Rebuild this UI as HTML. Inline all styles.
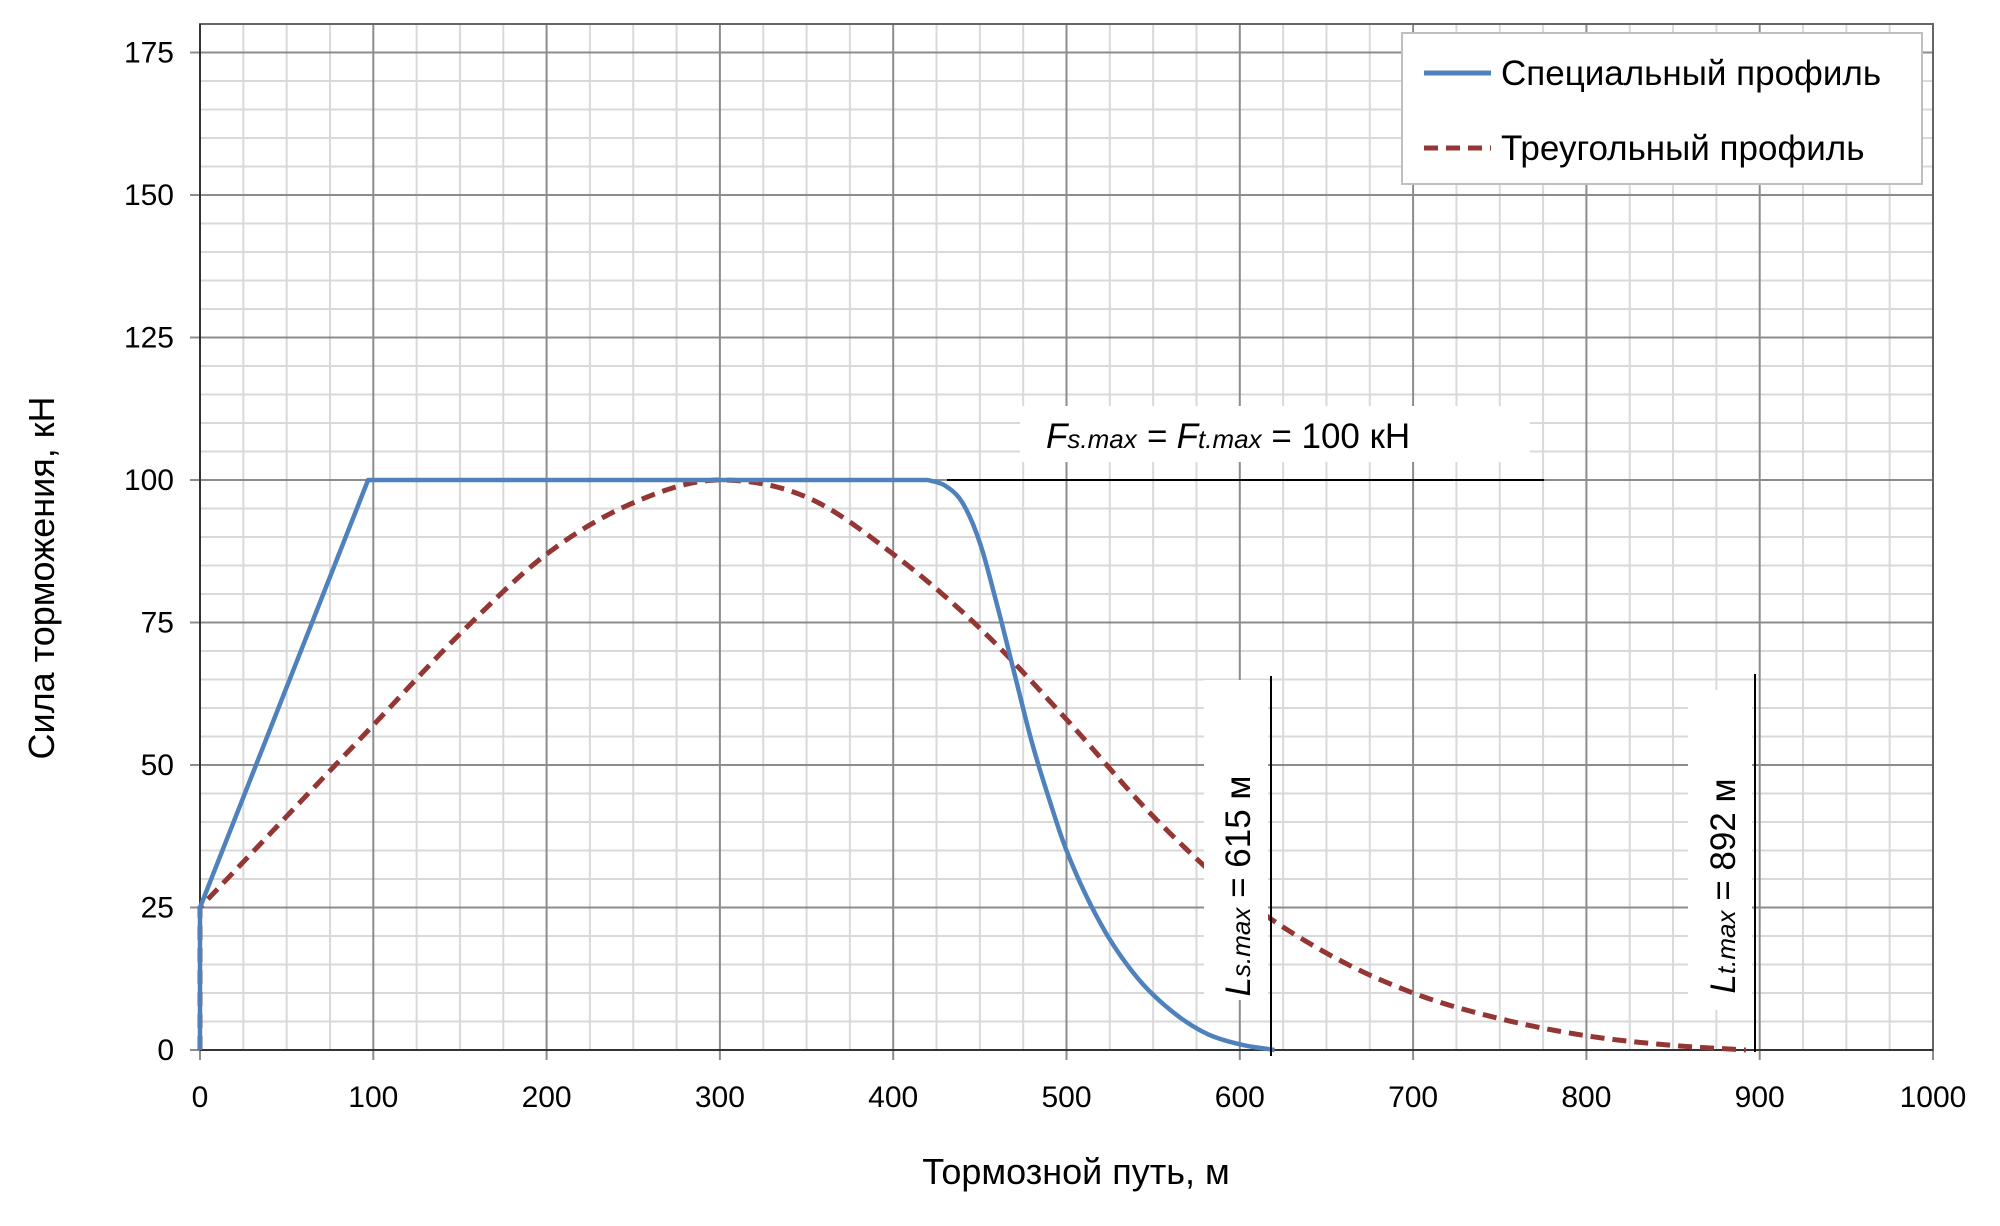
<!DOCTYPE html>
<html><head><meta charset="utf-8"><style>
body{margin:0;background:#fff}
svg text{font-family:"Liberation Sans",Arial,sans-serif;fill:#000}
</style></head><body>
<svg id="c" width="2000" height="1221" xmlns="http://www.w3.org/2000/svg"></svg>
<script>
const xTicks=[0,100,200,300,400,500,600,700,800,900,1000];
const yTicks=[0,25,50,75,100,125,150,175];
const specialX=[0,97,420,430,440,450,460,470,480,490,500,520,540,560,580,600,620];
const specialY=[25,100,100,99,96,89,78,66,54,44,35,22,13,7,3,1,0];
const triX=[0,50,100,150,200,250,300,350,400,450,500,550,600,650,700,750,800,850,892];
const triY=[25,41,57,73,87,96,100,97,87,74,58,41,27,17,10,5.5,2.5,0.8,0];
const L=200,R=1933,T=24,B=1050;
const sx=v=>L+v*(R-L)/1000, sy=v=>B-v*(B-T)/180;
const svg=document.getElementById('c');
const NS='http://www.w3.org/2000/svg';
function mk(t,a,p){const e=document.createElementNS(NS,t);for(const k in a)e.setAttribute(k,a[k]);(p||svg).appendChild(e);return e;}
for(let v=25;v<1000;v+=25){if(v%100===0)continue;const e=mk('line',{x1:sx(v),x2:sx(v),y1:T,y2:B,stroke:'#d9d9d9','stroke-width':2});

}
for(let v=5;v<180;v+=5){if(v%25===0)continue;const e=mk('line',{x1:L,x2:R,y1:sy(v),y2:sy(v),stroke:'#d9d9d9','stroke-width':2});

}
xTicks.forEach(v=>{const g=mk('line',{x1:sx(v),x2:sx(v),y1:T,y2:B+10,stroke:'#8c8c8c','stroke-width':2});


const t=mk('text',{x:sx(v),y:1107,'font-size':30,'text-anchor':'middle'});t.textContent=v;

});
yTicks.forEach(v=>{const g=mk('line',{x1:L-10,x2:R,y1:sy(v),y2:sy(v),stroke:'#8c8c8c','stroke-width':2});


const t=mk('text',{x:174,y:sy(v)+10,'font-size':30,'text-anchor':'end'});t.textContent=v;

});
const fr=mk('rect',{x:L,y:T,width:R-L,height:B-T,fill:'none',stroke:'#666','stroke-width':2});


mk('line',{x1:L,x2:L,y1:T,y2:B,stroke:'#333','stroke-width':2});
mk('line',{x1:L,x2:R,y1:B,y2:B,stroke:'#333','stroke-width':2});
function mono(xs,ys){const n=xs.length,d=[],m=[];
for(let i=0;i<n-1;i++)d.push((ys[i+1]-ys[i])/(xs[i+1]-xs[i]));
m[0]=d[0];m[n-1]=d[n-2];
for(let i=1;i<n-1;i++)m[i]=(d[i-1]*d[i]<=0)?0:(d[i-1]+d[i])/2;
for(let i=0;i<n-1;i++){if(d[i]===0){m[i]=0;m[i+1]=0;continue;}const a=m[i]/d[i],b=m[i+1]/d[i],s=a*a+b*b;if(s>9){const t=3/Math.sqrt(s);m[i]=t*a*d[i];m[i+1]=t*b*d[i];}}
let path='';
for(let i=0;i<n-1;i++){const h=xs[i+1]-xs[i];const steps=Math.max(2,Math.ceil(h/2));
for(let k=1;k<=steps;k++){const t=k/steps,t2=t*t,t3=t2*t;
const y=(2*t3-3*t2+1)*ys[i]+(t3-2*t2+t)*h*m[i]+(-2*t3+3*t2)*ys[i+1]+(t3-t2)*h*m[i+1];
path+='L'+sx(xs[i]+t*h).toFixed(2)+','+sy(y).toFixed(2);}}
return path;}
const triD='M'+sx(triX[0])+','+sy(0)+'L'+sx(triX[0])+','+sy(triY[0])+mono(triX,triY);
const tri=mk('path',{d:triD,fill:'none',stroke:'#943634','stroke-width':5,'stroke-dasharray':'14,8'});


let spD='M'+sx(specialX[0])+','+sy(0);
for(let i=0;i<=2;i++)spD+='L'+sx(specialX[i])+','+sy(specialY[i]);
spD+=mono(specialX.slice(2),specialY.slice(2));
const sp=mk('path',{d:spD,fill:'none',stroke:'#4f81bd','stroke-width':4.5,'stroke-linejoin':'round'});


</script>
<svg width="2000" height="1221" style="position:absolute;left:0;top:0" xmlns="http://www.w3.org/2000/svg">
<g>
<rect x="1020" y="406" width="510" height="56" fill="#fff"/>
<line x1="947" y1="480" x2="1544" y2="480" stroke="#000" stroke-width="2"/>
<text x="1046" y="448" font-size="35" font-style="italic">F<tspan font-size="26">s.max</tspan> = F<tspan font-size="26">t.max</tspan><tspan font-style="normal"> = 100 кН</tspan></text>
</g>
<g>
<rect x="1204" y="680" width="64" height="320" fill="#fff"/>
<line x1="1271" y1="676" x2="1271" y2="1056" stroke="#000" stroke-width="2"/>
<text transform="translate(1250,886) rotate(-90)" font-size="35" text-anchor="middle" font-style="italic">L<tspan font-size="26">s.max</tspan><tspan font-style="normal"> = 615 м</tspan></text>
</g>
<g>
<rect x="1688" y="690" width="64" height="320" fill="#fff"/>
<line x1="1755" y1="674" x2="1755" y2="1052" stroke="#000" stroke-width="2"/>
<text transform="translate(1735,886) rotate(-90)" font-size="35" text-anchor="middle" font-style="italic">L<tspan font-size="26">t.max</tspan><tspan font-style="normal"> = 892 м</tspan></text>
</g>
<g>
<rect x="1402" y="33" width="520" height="151" fill="#fff" stroke="#bfbfbf" stroke-width="2"/>
<line x1="1424" y1="73" x2="1491" y2="73" stroke="#4f81bd" stroke-width="5"/>
<text x="1501" y="85" font-size="35">Специальный профиль</text>
<line x1="1424" y1="148" x2="1491" y2="148" stroke="#943634" stroke-width="5" stroke-dasharray="14,8"/>
<text x="1501" y="160" font-size="35">Треугольный профиль</text>
</g>
<text x="1076" y="1184" font-size="36" text-anchor="middle">Тормозной путь, м</text>
<text transform="translate(54,578) rotate(-90)" font-size="36" text-anchor="middle">Сила торможения, кН</text>
</svg>
</body></html>
